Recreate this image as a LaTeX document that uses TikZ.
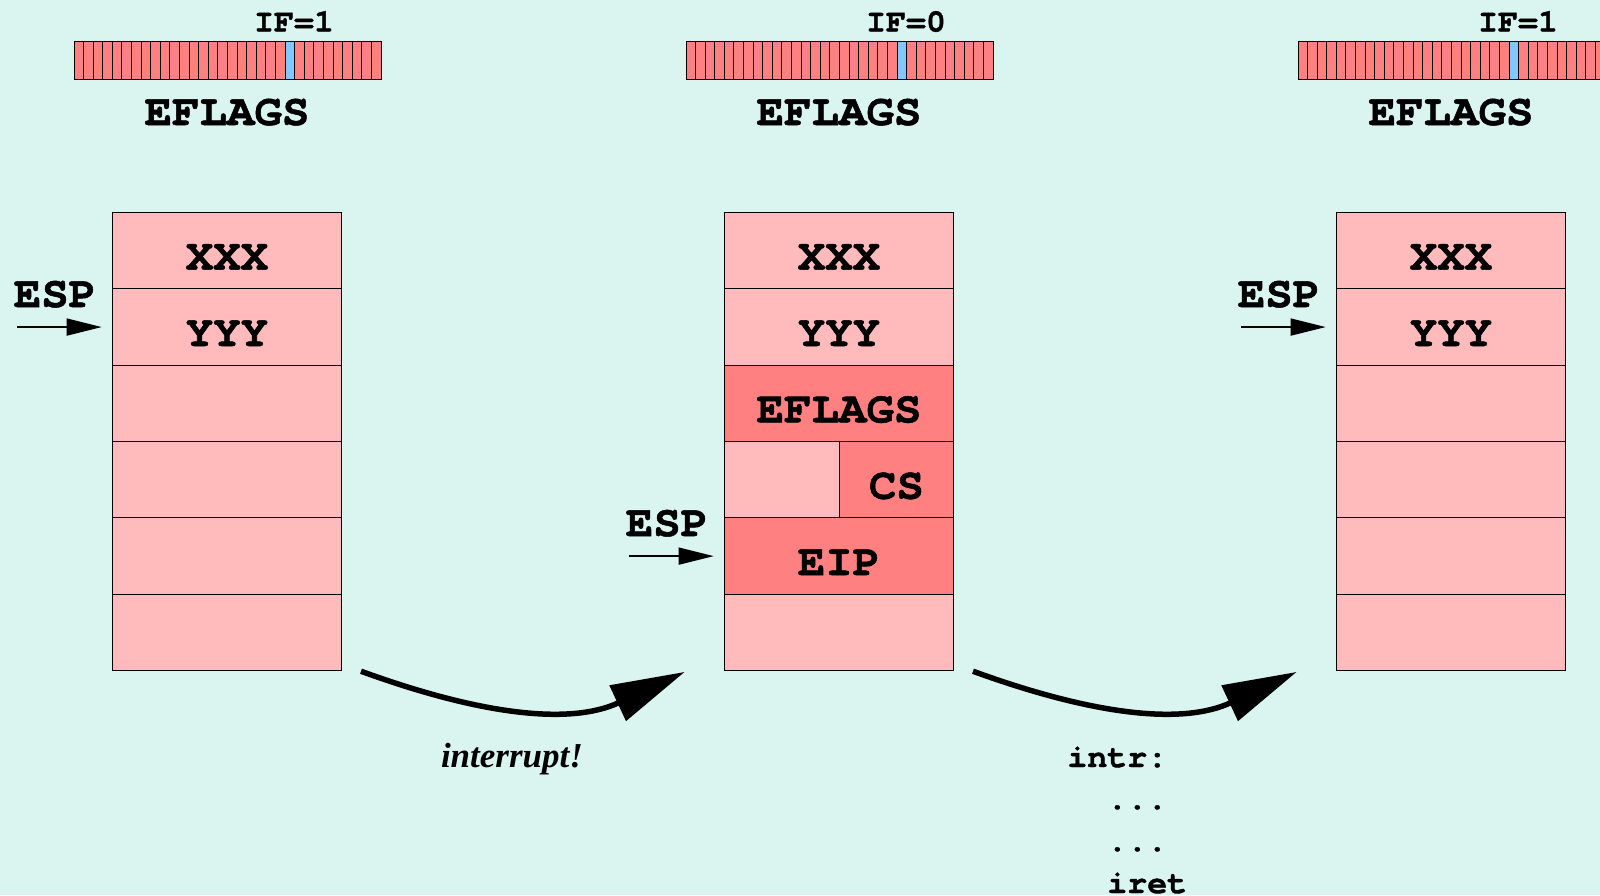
\documentclass[tikz,border=0pt]{standalone}
\usepackage{fontspec}
\setmainfont{Liberation Serif}
\newfontfamily\codefont{TeX Gyre Cursor}[FakeStretch=1.04, BoldFeatures={FakeBold=1.2}]
\usetikzlibrary{arrows.meta,positioning}

\definecolor{bgcol}{HTML}{DAF5F0}
\definecolor{lightcell}{HTML}{FFBBBB}
\definecolor{darkcell}{HTML}{FF8080}
\definecolor{ifbit}{HTML}{80C8FF}

\newcommand\bigmono{\codefont\bfseries\fontsize{22pt}{26pt}\selectfont}
\newcommand\smallmono{\codefont\bfseries\fontsize{16pt}{21pt}\selectfont}

\begin{document}
\begin{tikzpicture}[
        x=0.5pt, y=0.5pt,
        cell/.style={
            draw,
            fill=lightcell,
            line width=0.5pt,
            minimum width=114.8pt,
            minimum height=38.175pt,
            inner sep=0pt,
            outer sep=0pt,
            text height=19pt,
            text depth=0pt,
            font=\bigmono
        },
        half/.style={cell, minimum width=57.4pt},
        pushed/.style={fill=darkcell},
        label/.style={anchor=base, inner sep=0pt, font=\bigmono},
        esparrow/.style={-{Triangle[length=17.5pt,width=8.5pt]}, line width=0.75pt, shorten >=5.25pt},
        flowarrow/.style={-{Triangle[length=37pt,width=19pt]}, line width=2.75pt}
    ]
    \useasboundingbox (0,0) rectangle (1600,-895);
    \fill[bgcol] (0,0) rectangle (1600,-895);

    % EFLAGS registers
    \foreach \bx in {74,686,1298}{
        \foreach \b in {0,...,31}{
            \ifnum\b=22 \def\bitcol{ifbit}\else\def\bitcol{darkcell}\fi
            \draw[fill=\bitcol, line width=0.5pt] (\bx+\b*9.594,-41) rectangle ++(9.594,-38);
        }
    }
    \node[label] (flags1) at (227,-125) {EFLAGS};
    \node[label] (flags2) at (839,-125) {EFLAGS};
    \node[label] (flags3) at (1451,-125) {EFLAGS};
    \node[label, font=\smallmono] (if1) at (294,-31.5) {IF=1};
    \node[label, font=\smallmono] (if2) at (906,-31.5) {IF=0};
    \node[label, font=\smallmono] (if3) at (1518,-31.5) {IF=1};

    % stack before the interrupt
    \node[cell] (a1) at (227,-250.7) {XXX};
    \node[cell, below=0pt of a1] (a2) {YYY};
    \node[cell, below=0pt of a2] (a3) {};
    \node[cell, below=0pt of a3] (a4) {};
    \node[cell, below=0pt of a4] (a5) {};
    \node[cell, below=0pt of a5] (a6) {};

    % stack in the handler
    \node[cell] (b1) at (839,-250.7) {XXX};
    \node[cell, below=0pt of b1] (b2) {YYY};
    \node[cell, pushed, below=0pt of b2] (b3) {EFLAGS};
    \node[half, anchor=north west] (b4) at (b3.south west) {};
    \node[half, pushed, anchor=north east] (cs) at (b3.south east) {CS};
    \node[cell, pushed, anchor=north] (b5) at (b4.south -| b3) {EIP};
    \node[cell, below=0pt of b5] (b6) {};

    % stack after iret
    \node[cell] (c1) at (1451,-250.7) {XXX};
    \node[cell, below=0pt of c1] (c2) {YYY};
    \node[cell, below=0pt of c2] (c3) {};
    \node[cell, below=0pt of c3] (c4) {};
    \node[cell, below=0pt of c4] (c5) {};
    \node[cell, below=0pt of c5] (c6) {};

    % stack pointers
    \coordinate (e1) at ([xshift=-47.75pt]a2.west);
    \coordinate (e2) at ([xshift=-47.75pt]b5.west);
    \coordinate (e3) at ([xshift=-47.75pt]c2.west);
    \draw[esparrow] (e1) -- (a2.west);
    \draw[esparrow] (e2) -- (b5.west);
    \draw[esparrow] (e3) -- (c2.west);
    \node[label] (esp1) at ([xshift=19.15pt,yshift=10pt]e1) {ESP};
    \node[label] (esp2) at ([xshift=19.15pt,yshift=10pt]e2) {ESP};
    \node[label] (esp3) at ([xshift=19.15pt,yshift=10pt]e3) {ESP};

    % transitions
    \draw[flowarrow] ([xshift=9.6pt,yshift=-0.3pt]a6.south east) to[out=-20,in=205] ([xshift=-19.75pt,yshift=-0.65pt]b6.south west);
    \draw[flowarrow] ([xshift=9.6pt,yshift=-0.3pt]b6.south east) to[out=-20,in=205] ([xshift=-19.75pt,yshift=-0.65pt]c6.south west);
    \node[label, font=\bfseries\itshape\fontsize{17.5pt}{20pt}\selectfont] (irq) at (512,-767) {interrupt!};
    \node[anchor=base west, inner sep=0pt, align=left, font=\smallmono] (handler) at (1067,-893)
        {intr:\\\hphantom{in}...\\\hphantom{in}...\\\hphantom{in}iret};
\end{tikzpicture}
\end{document}
